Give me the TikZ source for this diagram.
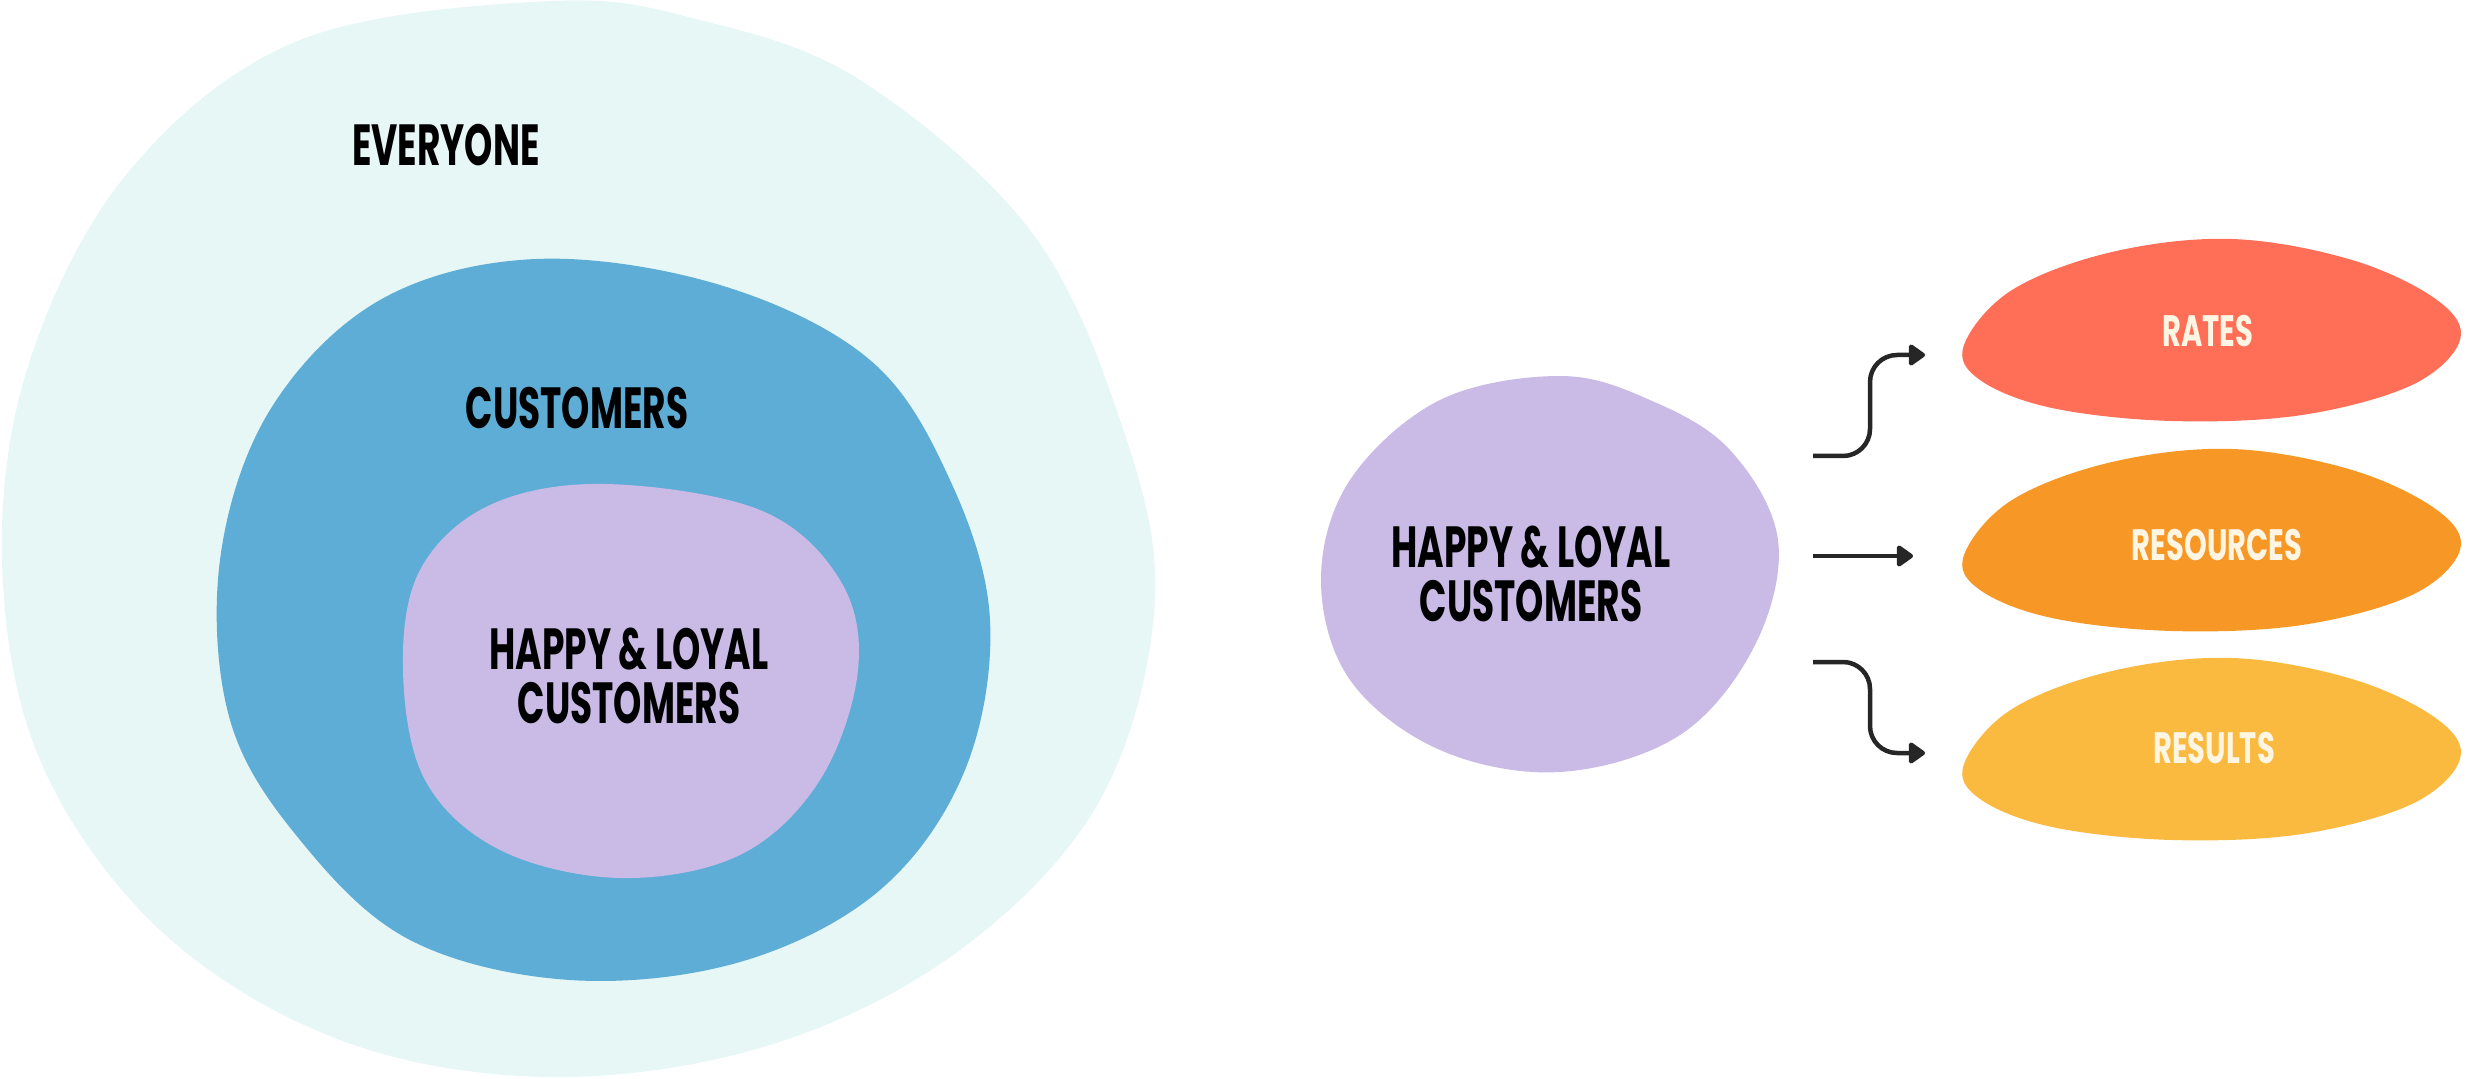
\documentclass[tikz,border=0pt]{standalone}
\usepackage{fontspec}
\newfontfamily\handfont[FakeStretch=0.62]{Poppins}
\newfontfamily\ovalfont[FakeStretch=0.66]{Poppins}
\usetikzlibrary{arrows.meta}

\definecolor{everyoneBg}{HTML}{E7F7F6}
\definecolor{customerBlue}{HTML}{5DADD6}
\definecolor{happyLilac}{HTML}{C9BBE6}
\definecolor{ratesRed}{HTML}{FF6E56}
\definecolor{resourcesOrange}{HTML}{F79726}
\definecolor{resultsYellow}{HTML}{FABA40}
\definecolor{labelCream}{HTML}{FFF5E3}
\definecolor{arrowGray}{HTML}{262626}

\begin{document}
\begin{tikzpicture}[x=0.1mm, y=-0.1mm,
    blobLabel/.style={inner sep=0pt, align=center, text=black, font=\handfont\bfseries\fontsize{16.5}{15.5}\selectfont},
    ovalLabel/.style={inner sep=0pt, text=labelCream, font=\ovalfont\bfseries\fontsize{12.5}{15}\selectfont},
    flowArrow/.style={draw=arrowGray, line width=0.45mm, rounded corners=2.7mm, -{Triangle[length=1.8mm, width=2.4mm, round]}},
  ]
    \useasboundingbox (0,0) rectangle (2483,1079);

    % nested blobs on the left
    \fill[everyoneBg] plot[smooth cycle, tension=0.6] coordinates {
      (551,1) (300,40) (130,170) (30,360) (2,560) (40,760) (160,930) (340,1040)
      (551,1077) (770,1045) (960,950) (1100,800) (1155,600) (1120,420) (1030,230)
      (860,80) (700,20)};
    \fill[customerBlue] plot[smooth cycle, tension=0.6] coordinates {
      (536,259) (380,300) (270,410) (220,560) (230,720) (300,840) (410,940)
      (570,980) (740,962) (880,890) (965,770) (990,620) (950,480) (870,360)
      (720,285)};
    \fill[happyLilac] plot[smooth cycle, tension=0.6] coordinates {
      (605,484) (490,505) (420,570) (403,670) (425,780) (500,850) (620,878)
      (740,855) (820,780) (858,670) (840,580) (760,510)};

    % single blob on the right
    \fill[happyLilac] plot[smooth cycle, tension=0.6] coordinates {
      (1560,376) (1440,400) (1350,480) (1321,580) (1350,680) (1440,750) (1560,772)
      (1680,735) (1755,645) (1778,540) (1730,450) (1650,400)};

    % ovals
    \foreach \ovalCol/\cy in {ratesRed/330, resourcesOrange/540, resultsYellow/749}
      \fill[\ovalCol, shift={(2212,\cy)}] plot[smooth cycle, tension=0.6] coordinates {
        (-248,15) (-200,-40) (-100,-78) (20,-91) (140,-70) (225,-30) (248,10)
        (200,55) (90,85) (-40,91) (-160,78) (-232,50)};

    \node[blobLabel] (everyone) at (446,145) {EVERYONE};
    \node[blobLabel] (customers) at (577,408) {CUSTOMERS};
    \node[blobLabel] (happyLeft) at (629,676) {HAPPY \& LOYAL\\CUSTOMERS};
    \node[blobLabel] (happyRight) at (1531,574) {HAPPY \& LOYAL\\CUSTOMERS};

    \node[ovalLabel] (rates) at (2208,331) {RATES};
    \node[ovalLabel] (resources) at (2217,545) {RESOURCES};
    \node[ovalLabel] (results) at (2214,748) {RESULTS};

    \coordinate (ratesStart) at (1813,456);
    \coordinate (ratesEnd) at (1925,355);
    \coordinate (resourcesStart) at (1813,556);
    \coordinate (resourcesEnd) at (1913,556);
    \coordinate (resultsStart) at (1813,662);
    \coordinate (resultsEnd) at (1925,753);

    \path[flowArrow] (ratesStart) -- ++(57,0) |- (ratesEnd);
    \path[flowArrow] (resourcesStart) -- (resourcesEnd);
    \path[flowArrow] (resultsStart) -- ++(57,0) |- (resultsEnd);
  \end{tikzpicture}
\end{document}
